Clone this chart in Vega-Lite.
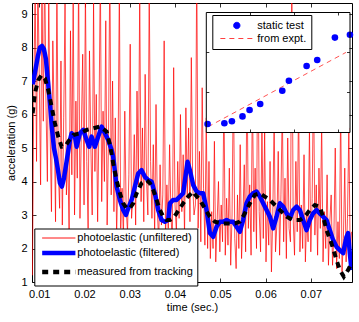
{
"$schema": "https://vega.github.io/schema/vega-lite/v6.json",
"width": 320, "height": 279,
"autosize": {"type": "none"},
"padding": {"left": 32, "top": 3, "right": 7, "bottom": 40},
"config": {
  "font": "Liberation Sans",
  "view": {"stroke": null},
  "axis": {"labelFont": "Liberation Sans", "titleFont": "Liberation Sans", "labelFontSize": 11, "titleFontSize": 11, "titleFontWeight": "normal", "labelColor": "#000", "titleColor": "#000", "domainColor": "#000", "domainWidth": 1, "tickColor": "#000", "tickWidth": 0.8, "grid": false},
  "legend": {"labelFont": "Liberation Sans", "labelFontSize": 11, "labelColor": "#000"}
},
"datasets": {
  "red": [
    {"t":0.0085,"a":1.2},{"t":0.0088,"a":6.8},{"t":0.0091,"a":9.8},{"t":0.0094,"a":4.6},{"t":0.0097,"a":10.2},{"t":0.0100,"a":7.1},{"t":0.0103,"a":3.9},{"t":0.0106,"a":9.9},{"t":0.0109,"a":5.8},{"t":0.0112,"a":10.5},
    {"t":0.0115,"a":6.2},{"t":0.0118,"a":4.0},{"t":0.0121,"a":9.6},{"t":0.0124,"a":5.5},{"t":0.0127,"a":3.1},{"t":0.0130,"a":8.2},{"t":0.0133,"a":6.0},{"t":0.0136,"a":2.8},{"t":0.0139,"a":10.1},{"t":0.0142,"a":4.4},
    {"t":0.0145,"a":3.2},{"t":0.0148,"a":7.6},{"t":0.0151,"a":2.7},{"t":0.0154,"a":5.9},{"t":0.0157,"a":9.3},{"t":0.0160,"a":3.6},{"t":0.0163,"a":4.8},{"t":0.0166,"a":2.5},{"t":0.0169,"a":8.5},{"t":0.0172,"a":4.2},
    {"t":0.0175,"a":9.6},{"t":0.0178,"a":3.0},{"t":0.0181,"a":6.4},{"t":0.0184,"a":4.1},{"t":0.0187,"a":10.2},{"t":0.0190,"a":2.9},{"t":0.0193,"a":5.5},{"t":0.0196,"a":7.8},{"t":0.0199,"a":3.3},{"t":0.0202,"a":9.8},
    {"t":0.0205,"a":4.6},{"t":0.0208,"a":2.6},{"t":0.0211,"a":7.9},{"t":0.0214,"a":5.1},{"t":0.0217,"a":3.0},{"t":0.0220,"a":9.4},{"t":0.0223,"a":4.3},{"t":0.0226,"a":6.6},{"t":0.0229,"a":2.8},{"t":0.0232,"a":5.8},
    {"t":0.0235,"a":10.4},{"t":0.0238,"a":3.4},{"t":0.0241,"a":6.1},{"t":0.0244,"a":4.0},{"t":0.0247,"a":8.8},{"t":0.0250,"a":2.7},{"t":0.0253,"a":5.2},{"t":0.0256,"a":10.6},{"t":0.0259,"a":3.6},{"t":0.0262,"a":7.0},
    {"t":0.0265,"a":3.1},{"t":0.0268,"a":5.9},{"t":0.0271,"a":2.4},{"t":0.0274,"a":4.4},{"t":0.0277,"a":9.9},{"t":0.0280,"a":2.6},{"t":0.0283,"a":3.8},{"t":0.0286,"a":2.3},{"t":0.0289,"a":6.1},{"t":0.0292,"a":3.2},
    {"t":0.0295,"a":2.5},{"t":0.0298,"a":4.2},{"t":0.0301,"a":8.1},{"t":0.0304,"a":2.9},{"t":0.0307,"a":3.6},{"t":0.0310,"a":5.4},{"t":0.0313,"a":2.7},{"t":0.0316,"a":6.7},{"t":0.0319,"a":3.9},{"t":0.0322,"a":9.6},
    {"t":0.0325,"a":3.4},{"t":0.0328,"a":5.6},{"t":0.0331,"a":2.8},{"t":0.0334,"a":7.2},{"t":0.0337,"a":4.1},{"t":0.0340,"a":3.0},{"t":0.0343,"a":9.8},{"t":0.0346,"a":4.6},{"t":0.0349,"a":2.9},{"t":0.0352,"a":5.1},
    {"t":0.0355,"a":2.4},{"t":0.0358,"a":6.3},{"t":0.0361,"a":3.1},{"t":0.0364,"a":2.2},{"t":0.0367,"a":4.5},{"t":0.0370,"a":2.7},{"t":0.0373,"a":3.6},{"t":0.0376,"a":8.2},{"t":0.0379,"a":2.3},{"t":0.0382,"a":3.9},
    {"t":0.0385,"a":2.6},{"t":0.0388,"a":5.1},{"t":0.0391,"a":3.0},{"t":0.0394,"a":2.2},{"t":0.0397,"a":7.4},{"t":0.0400,"a":3.3},{"t":0.0403,"a":2.5},{"t":0.0406,"a":4.6},{"t":0.0409,"a":2.9},{"t":0.0412,"a":6.0},
    {"t":0.0415,"a":3.1},{"t":0.0418,"a":4.8},{"t":0.0421,"a":2.4},{"t":0.0424,"a":6.2},{"t":0.0427,"a":3.5},{"t":0.0430,"a":5.6},{"t":0.0433,"a":2.8},{"t":0.0436,"a":7.7},{"t":0.0439,"a":3.9},{"t":0.0442,"a":3.0},
    {"t":0.0445,"a":3.3},{"t":0.0448,"a":10.6},{"t":0.0451,"a":2.6},{"t":0.0454,"a":4.9},{"t":0.0457,"a":2.2},{"t":0.0460,"a":6.8},{"t":0.0463,"a":3.8},{"t":0.0466,"a":2.1},{"t":0.0469,"a":5.9},{"t":0.0472,"a":2.0},
    {"t":0.0475,"a":4.6},{"t":0.0478,"a":1.7},{"t":0.0481,"a":3.1},{"t":0.0484,"a":2.0},{"t":0.0487,"a":5.2},{"t":0.0490,"a":1.6},{"t":0.0493,"a":2.8},{"t":0.0496,"a":4.0},{"t":0.0499,"a":1.9},{"t":0.0502,"a":3.3},
    {"t":0.0505,"a":2.2},{"t":0.0508,"a":6.8},{"t":0.0511,"a":1.8},{"t":0.0514,"a":3.5},{"t":0.0517,"a":2.1},{"t":0.0520,"a":4.4},{"t":0.0523,"a":1.5},{"t":0.0526,"a":3.0},{"t":0.0529,"a":7.2},{"t":0.0532,"a":2.3},
    {"t":0.0535,"a":1.4},{"t":0.0538,"a":3.6},{"t":0.0541,"a":2.0},{"t":0.0544,"a":5.1},{"t":0.0547,"a":1.7},{"t":0.0550,"a":2.9},{"t":0.0553,"a":4.5},{"t":0.0556,"a":1.9},{"t":0.0559,"a":7.5},{"t":0.0562,"a":2.6},
    {"t":0.0565,"a":3.9},{"t":0.0568,"a":1.8},{"t":0.0571,"a":6.9},{"t":0.0574,"a":2.5},{"t":0.0577,"a":4.4},{"t":0.0580,"a":2.0},{"t":0.0583,"a":9.0},{"t":0.0586,"a":3.1},{"t":0.0589,"a":1.9},{"t":0.0592,"a":5.8},
    {"t":0.0595,"a":2.3},{"t":0.0598,"a":5.5},{"t":0.0601,"a":1.6},{"t":0.0604,"a":3.4},{"t":0.0607,"a":2.1},{"t":0.0610,"a":4.6},{"t":0.0613,"a":1.3},{"t":0.0616,"a":3.0},{"t":0.0619,"a":5.9},{"t":0.0622,"a":1.9},
    {"t":0.0625,"a":2.7},{"t":0.0628,"a":4.9},{"t":0.0631,"a":1.8},{"t":0.0634,"a":3.6},{"t":0.0637,"a":6.3},{"t":0.0640,"a":2.2},{"t":0.0643,"a":4.1},{"t":0.0646,"a":1.7},{"t":0.0649,"a":5.3},{"t":0.0652,"a":2.6},
    {"t":0.0655,"a":2.2},{"t":0.0658,"a":10.5},{"t":0.0661,"a":2.9},{"t":0.0664,"a":1.8},{"t":0.0667,"a":4.6},{"t":0.0670,"a":2.5},{"t":0.0673,"a":6.4},{"t":0.0676,"a":1.9},{"t":0.0679,"a":3.3},{"t":0.0682,"a":2.0},
    {"t":0.0685,"a":4.8},{"t":0.0688,"a":1.6},{"t":0.0691,"a":3.0},{"t":0.0694,"a":2.2},{"t":0.0697,"a":5.6},{"t":0.0700,"a":1.9},{"t":0.0703,"a":3.5},{"t":0.0706,"a":7.2},{"t":0.0709,"a":2.4},{"t":0.0712,"a":3.9},
    {"t":0.0715,"a":1.8},{"t":0.0718,"a":4.4},{"t":0.0721,"a":2.6},{"t":0.0724,"a":5.8},{"t":0.0727,"a":1.6},{"t":0.0730,"a":3.1},{"t":0.0733,"a":2.0},{"t":0.0736,"a":4.2},{"t":0.0739,"a":1.5},{"t":0.0742,"a":2.8},
    {"t":0.0745,"a":3.6},{"t":0.0748,"a":1.5},{"t":0.0751,"a":2.4},{"t":0.0754,"a":5.0},{"t":0.0757,"a":1.4},{"t":0.0760,"a":2.8},{"t":0.0763,"a":1.7},{"t":0.0766,"a":6.3},{"t":0.0769,"a":1.3},{"t":0.0772,"a":2.3},
    {"t":0.0775,"a":4.4},{"t":0.0778,"a":1.6},{"t":0.0781,"a":2.9},{"t":0.0784,"a":5.6},{"t":0.0787,"a":1.8},{"t":0.0790,"a":2.5}
  ],
  "blue": [
    {"t":0.00854,"a":6.9},{"t":0.00905,"a":7.25},{"t":0.00971,"a":7.75},{"t":0.01015,"a":8.0},{"t":0.01060,"a":8.05},{"t":0.01104,"a":7.95},{"t":0.01148,"a":7.65},{"t":0.01192,"a":7.0},{"t":0.01236,"a":6.35},{"t":0.01280,"a":5.6},
    {"t":0.01325,"a":5.0},{"t":0.01369,"a":4.7},{"t":0.01413,"a":4.35},{"t":0.01457,"a":3.95},{"t":0.01501,"a":3.85},{"t":0.01546,"a":4.1},{"t":0.01605,"a":4.6},{"t":0.01678,"a":5.24},{"t":0.01716,"a":5.44},{"t":0.01788,"a":5.34},
    {"t":0.01826,"a":5.04},{"t":0.01899,"a":5.44},{"t":0.01972,"a":5.54},{"t":0.02047,"a":5.24},{"t":0.02104,"a":5.04},{"t":0.02157,"a":5.34},{"t":0.02230,"a":5.04},{"t":0.02303,"a":5.34},{"t":0.02378,"a":5.64},{"t":0.02451,"a":5.44},
    {"t":0.02524,"a":5.24},{"t":0.02599,"a":4.94},{"t":0.02634,"a":4.74},{"t":0.02672,"a":4.3},{"t":0.02709,"a":3.85},{"t":0.02782,"a":3.45},{"t":0.02855,"a":3.15},{"t":0.02915,"a":3.0},{"t":0.02966,"a":3.2},{"t":0.03041,"a":3.45},
    {"t":0.03114,"a":3.85},{"t":0.03186,"a":4.24},{"t":0.03261,"a":4.34},{"t":0.03334,"a":4.14},{"t":0.03407,"a":4.04},{"t":0.03482,"a":4.0},{"t":0.03555,"a":3.65},{"t":0.03628,"a":3.15},{"t":0.03703,"a":2.85},{"t":0.03776,"a":2.8},
    {"t":0.03849,"a":2.85},{"t":0.03887,"a":3.35},{"t":0.03959,"a":3.45},{"t":0.04034,"a":3.45},{"t":0.04107,"a":3.55},{"t":0.04180,"a":3.65},{"t":0.04240,"a":4.24},{"t":0.04277,"a":4.59},{"t":0.04328,"a":4.34},{"t":0.04401,"a":3.9},
    {"t":0.04476,"a":3.7},{"t":0.04549,"a":3.65},{"t":0.04622,"a":3.65},{"t":0.04697,"a":3.15},{"t":0.04770,"a":2.46},{"t":0.04843,"a":2.35},{"t":0.04918,"a":2.65},{"t":0.04991,"a":2.8},{"t":0.05064,"a":2.8},{"t":0.05139,"a":2.85},
    {"t":0.05212,"a":2.8},{"t":0.05284,"a":2.8},{"t":0.05359,"a":2.65},{"t":0.05432,"a":2.5},{"t":0.05505,"a":2.85},{"t":0.05580,"a":3.35},{"t":0.05653,"a":3.55},{"t":0.05726,"a":3.65},{"t":0.05801,"a":3.7},{"t":0.05874,"a":3.55},
    {"t":0.05947,"a":3.35},{"t":0.06022,"a":3.15},{"t":0.06095,"a":2.95},{"t":0.06168,"a":2.6},{"t":0.06243,"a":2.95},{"t":0.06316,"a":3.35},{"t":0.06389,"a":3.25},{"t":0.06464,"a":3.05},{"t":0.06537,"a":2.9},{"t":0.06610,"a":3.15},
    {"t":0.06685,"a":3.25},{"t":0.06758,"a":3.15},{"t":0.06830,"a":2.85},{"t":0.06905,"a":2.55},{"t":0.06978,"a":2.85},{"t":0.07051,"a":3.05},{"t":0.07126,"a":3.15},{"t":0.07199,"a":3.05},{"t":0.07272,"a":2.95},{"t":0.07347,"a":2.85},
    {"t":0.07420,"a":2.55},{"t":0.07493,"a":2.25},{"t":0.07568,"a":2.05},{"t":0.07641,"a":1.95},{"t":0.07714,"a":1.86},{"t":0.07789,"a":2.35},{"t":0.07824,"a":2.46},{"t":0.07862,"a":1.86},{"t":0.07899,"a":1.36}
  ],
  "black": [
    {"t":0.00854,"a":6.04},{"t":0.00905,"a":6.64},{"t":0.00978,"a":7.03},{"t":0.01053,"a":7.18},{"t":0.01126,"a":7.08},{"t":0.01199,"a":6.73},{"t":0.01274,"a":6.23},{"t":0.01347,"a":5.74},{"t":0.01420,"a":5.34},{"t":0.01495,"a":5.04},
    {"t":0.01568,"a":5.04},{"t":0.01640,"a":5.19},{"t":0.01751,"a":5.39},{"t":0.01899,"a":5.44},{"t":0.02047,"a":5.54},{"t":0.02193,"a":5.59},{"t":0.02341,"a":5.64},{"t":0.02489,"a":5.49},{"t":0.02561,"a":5.1},{"t":0.02634,"a":4.54},
    {"t":0.02709,"a":4.04},{"t":0.02782,"a":3.65},{"t":0.02855,"a":3.35},{"t":0.02930,"a":3.2},{"t":0.03003,"a":3.2},{"t":0.03076,"a":3.35},{"t":0.03151,"a":3.65},{"t":0.03261,"a":3.95},{"t":0.03372,"a":4.04},{"t":0.03445,"a":3.95},
    {"t":0.03518,"a":3.75},{"t":0.03593,"a":3.45},{"t":0.03666,"a":3.15},{"t":0.03739,"a":2.95},{"t":0.03814,"a":2.85},{"t":0.03887,"a":2.85},{"t":0.03959,"a":2.9},{"t":0.04034,"a":3.05},{"t":0.04107,"a":3.2},{"t":0.04180,"a":3.35},
    {"t":0.04291,"a":3.55},{"t":0.04401,"a":3.7},{"t":0.04439,"a":3.62},{"t":0.04549,"a":3.45},{"t":0.04659,"a":3.2},{"t":0.04770,"a":2.95},{"t":0.04880,"a":2.8},{"t":0.05028,"a":2.75},{"t":0.05174,"a":2.75},{"t":0.05322,"a":2.75},
    {"t":0.05432,"a":2.8},{"t":0.05543,"a":3.05},{"t":0.05653,"a":3.35},{"t":0.05763,"a":3.6},{"t":0.05874,"a":3.65},{"t":0.05984,"a":3.55},{"t":0.06095,"a":3.45},{"t":0.06243,"a":3.25},{"t":0.06353,"a":3.1},{"t":0.06464,"a":2.95},
    {"t":0.06610,"a":2.85},{"t":0.06758,"a":2.85},{"t":0.06868,"a":2.95},{"t":0.06978,"a":3.15},{"t":0.07089,"a":3.3},{"t":0.07199,"a":3.25},{"t":0.07272,"a":2.95},{"t":0.07347,"a":2.55},{"t":0.07457,"a":2.15},{"t":0.07568,"a":1.66},
    {"t":0.07641,"a":1.36},{"t":0.07729,"a":1.16},{"t":0.07824,"a":1.36},{"t":0.07899,"a":1.56}
  ],
  "static": [
    {"u":0.04,"v":0.20},{"u":0.42,"v":0.22},{"u":0.59,"v":0.27},{"u":0.83,"v":0.39},{"u":0.99,"v":0.55},{"u":1.23,"v":0.70},
    {"u":1.73,"v":1.03},{"u":1.88,"v":1.28},{"u":2.28,"v":1.65},{"u":2.52,"v":1.80},{"u":2.92,"v":2.36},{"u":3.26,"v":2.43}
  ],
  "fit": [{"u":0.05,"v":0.13},{"u":3.17,"v":1.99}]
},
"layer": [
  {
    "layer": [
      {
        "data": {"name": "red"},
        "mark": {"type": "line", "strokeWidth": 0.7, "clip": true},
        "encoding": {
          "x": {"field": "t", "type": "quantitative", "scale": {"domain": [0.0084, 0.0791], "nice": false, "zero": false},
                "axis": {"orient": "bottom", "values": [0.01,0.02,0.03,0.04,0.05,0.06,0.07], "format": ".2f", "tickSize": -4, "labelPadding": 10, "title": "time (sec.)", "titlePadding": 2}},
          "y": {"field": "a", "type": "quantitative", "scale": {"domain": [1, 9.33], "nice": false, "zero": false},
                "axis": {"orient": "left", "values": [1,2,3,4,5,6,7,8,9], "tickSize": -4, "labelPadding": 9, "title": "acceleration (g)", "titlePadding": 4}},
          "color": {"datum": "photoelastic (unfiltered)", "type": "nominal",
                    "scale": {"domain": ["photoelastic (unfiltered)", "photoelastic (filtered)", "measured from tracking"], "range": ["#ff0000", "#0000ff", "#000000"]},
                    "legend": {"orient": "none", "legendX": 2.3, "legendY": 225.5, "title": null, "fillColor": "white", "strokeColor": "#000", "padding": 4,
                               "symbolType": "M-4.7,0H4.7", "symbolSize": 50, "symbolOffset": 15, "labelOffset": 13, "rowPadding": 0,
                               "encode": {"symbols": {"update": {
                                  "strokeWidth": {"signal": "datum.value === 'photoelastic (unfiltered)' ? 1 : 4.5"},
                                  "strokeDash": {"signal": "datum.value === 'measured from tracking' ? [6,5] : [1,0]"}
                               }}}}}
        }
      },
      {
        "data": {"name": "blue"},
        "mark": {"type": "line", "strokeWidth": 4.5, "clip": true, "strokeJoin": "round"},
        "encoding": {
          "x": {"field": "t", "type": "quantitative", "scale": {"domain": [0.0084, 0.0791], "nice": false, "zero": false},
                "axis": {"orient": "top", "values": [0.01,0.02,0.03,0.04,0.05,0.06,0.07], "labels": false, "tickSize": -4, "title": null}},
          "y": {"field": "a", "type": "quantitative", "scale": {"domain": [1, 9.33], "nice": false, "zero": false},
                "axis": {"orient": "right", "values": [1,2,3,4,5,6,7,8,9], "labels": false, "tickSize": -4, "title": null}},
          "color": {"datum": "photoelastic (filtered)", "type": "nominal"}
        }
      },
      {
        "data": {"name": "black"},
        "mark": {"type": "line", "strokeWidth": 4, "strokeDash": [6, 5], "clip": true},
        "encoding": {
          "x": {"field": "t", "type": "quantitative", "scale": {"domain": [0.0084, 0.0791], "nice": false, "zero": false}, "axis": null},
          "y": {"field": "a", "type": "quantitative", "scale": {"domain": [1, 9.33], "nice": false, "zero": false}, "axis": null},
          "color": {"datum": "measured from tracking", "type": "nominal"}
        }
      }
    ],
    "resolve": {"axis": {"x": "independent", "y": "independent"}}
  },
  {
    "layer": [
      {
        "data": {"values": [{}]},
        "mark": {"type": "rect", "fill": "white"},
        "encoding": {
          "x": {"datum": 0, "type": "quantitative", "scale": {"domain": [0, 3.25], "range": [173.8, 317.5], "nice": false, "zero": false},
                "axis": {"orient": "bottom", "offset": -150, "values": [1,2,3], "labels": false, "title": null, "tickSize": -3, "zindex": 1}},
          "x2": {"datum": 3.25},
          "y": {"datum": 0, "type": "quantitative", "scale": {"domain": [0, 3], "range": [129, 9], "nice": false, "zero": false},
                "axis": {"orient": "left", "offset": -173.8, "values": [1,2], "labels": false, "title": null, "tickSize": -3, "zindex": 1}},
          "y2": {"datum": 3}
        }
      },
      {
        "data": {"name": "fit"},
        "mark": {"type": "line", "strokeWidth": 0.9, "strokeDash": [5, 4]},
        "encoding": {
          "x": {"field": "u", "type": "quantitative", "scale": {"domain": [0, 3.25], "range": [173.8, 317.5], "nice": false, "zero": false},
                "axis": {"orient": "top", "offset": -9, "values": [1,2,3], "labels": false, "title": null, "tickSize": -3, "zindex": 1}},
          "y": {"field": "v", "type": "quantitative", "scale": {"domain": [0, 3], "range": [129, 9], "nice": false, "zero": false},
                "axis": {"orient": "right", "offset": -2.5, "values": [1,2], "labels": false, "title": null, "tickSize": -3, "zindex": 1}},
          "color": {"datum": "from expt.", "type": "nominal",
                    "scale": {"domain": ["static test", "from expt."], "range": ["#0000ff", "#ff4040"]},
                    "legend": {"orient": "none", "legendX": 180.3, "legendY": 12, "title": null, "fillColor": "white", "strokeColor": "#000", "padding": 5,
                               "symbolSize": 40, "symbolOffset": 14, "labelOffset": 15, "rowPadding": 1,
                               "encode": {"symbols": {"update": {
                                  "shape": {"signal": "datum.value === 'static test' ? 'circle' : 'M-5.2,0H5.2'"},
                                  "fill": {"signal": "datum.value === 'static test' ? '#0000ff' : 'transparent'"},
                                  "stroke": {"signal": "datum.value === 'static test' ? 'transparent' : '#ff4040'"},
                                  "strokeDash": {"signal": "datum.value === 'static test' ? [1,0] : [5,4]"},
                                  "strokeWidth": {"value": 1},
                                  "opacity": {"value": 1}
                               }}}}}
        }
      },
      {
        "data": {"name": "static"},
        "mark": {"type": "circle", "size": 44, "opacity": 1},
        "encoding": {
          "x": {"field": "u", "type": "quantitative", "scale": {"domain": [0, 3.25], "range": [173.8, 317.5], "nice": false, "zero": false}, "axis": null},
          "y": {"field": "v", "type": "quantitative", "scale": {"domain": [0, 3], "range": [129, 9], "nice": false, "zero": false}, "axis": null},
          "color": {"datum": "static test", "type": "nominal"}
        }
      }
    ],
    "resolve": {"axis": {"x": "independent", "y": "independent"}}
  }
],
"resolve": {"scale": {"x": "independent", "y": "independent", "color": "independent"}}
}
